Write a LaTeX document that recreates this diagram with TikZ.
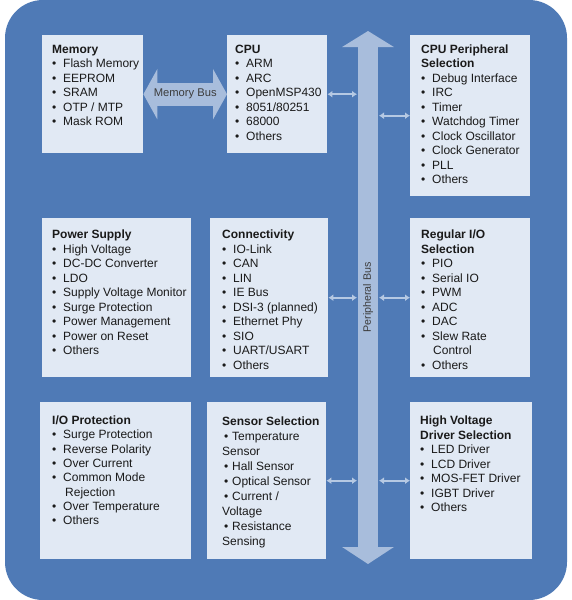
\documentclass[tikz,border=0pt]{standalone}
\usepackage{fontspec}
\setmainfont{Liberation Sans}
\usetikzlibrary{arrows.meta}
\definecolor{bgblue}{HTML}{4F7AB6}
\definecolor{boxfill}{HTML}{E1E9F4}
\definecolor{busfill}{HTML}{A8BDDC}
\definecolor{linkcol}{HTML}{B6C9E3}
\definecolor{txtcol}{HTML}{1A1A1A}
\newcommand{\itm}[1]{\makebox[11pt][l]{\textbullet}#1}
\begin{document}
\begin{tikzpicture}[x=1pt,y=-1pt,
  blk/.style={fill=boxfill, anchor=north west, inner sep=0pt},
  lst/.style={anchor=north west, inner sep=0pt, align=left, text=txtcol, font=\fontsize{12}{14.5}\selectfont},
  bus/.style={draw=busfill, line width=#1},
  link/.style={draw=linkcol, line width=1.8pt, {Latex[length=5pt,width=7pt]}-{Latex[length=5pt,width=7pt]}}]
\useasboundingbox (0,0) rectangle (572,600);
\fill[bgblue, rounded corners=38pt] (5,0) rectangle (567,600);
% blocks
\node[blk, minimum width=101pt, minimum height=118pt] (mem) at (42,35){};
\node[blk, minimum width=100pt, minimum height=118pt] (cpu) at (227,35){};
\node[blk, minimum width=120pt, minimum height=161pt] (cpuper) at (410,35){};
\node[blk, minimum width=149pt, minimum height=159pt] (pwr) at (42,218){};
\node[blk, minimum width=118pt, minimum height=159pt] (conn) at (210,218){};
\node[blk, minimum width=120pt, minimum height=159pt] (regio) at (410,218){};
\node[blk, minimum width=151pt, minimum height=157pt] (iop) at (40,402){};
\node[blk, minimum width=119pt, minimum height=157pt] (sens) at (207,402){};
\node[blk, minimum width=122pt, minimum height=157pt] (hvd) at (410,402){};
% texts
\node[lst] (mem-l) at ([xshift=10pt,yshift=-9.6pt]mem.north west){\textbf{Memory}\\
  \itm{Flash Memory}\\ \itm{EEPROM}\\ \itm{SRAM}\\ \itm{OTP / MTP}\\ \itm{Mask ROM}};
\node[lst] (cpu-l) at ([xshift=8pt,yshift=-9.6pt]cpu.north west){\textbf{CPU}\\
  \itm{ARM}\\ \itm{ARC}\\ \itm{OpenMSP430}\\ \itm{8051/80251}\\ \itm{68000}\\ \itm{Others}};
\node[lst] (cpuper-l) at ([xshift=11pt,yshift=-9.6pt]cpuper.north west){\textbf{CPU Peripheral}\\ \textbf{Selection}\\
  \itm{Debug Interface}\\ \itm{IRC}\\ \itm{Timer}\\ \itm{Watchdog Timer}\\ \itm{Clock Oscillator}\\
  \itm{Clock Generator}\\ \itm{PLL}\\ \itm{Others}};
\node[lst] (pwr-l) at ([xshift=10pt,yshift=-11.6pt]pwr.north west){\textbf{Power Supply}\\
  \itm{High Voltage}\\ \itm{DC-DC Converter}\\ \itm{LDO}\\ \itm{Supply Voltage Monitor}\\
  \itm{Surge Protection}\\ \itm{Power Management}\\ \itm{Power on Reset}\\ \itm{Others}};
\node[lst] (conn-l) at ([xshift=12pt,yshift=-11.6pt]conn.north west){\textbf{Connectivity}\\
  \itm{IO-Link}\\ \itm{CAN}\\ \itm{LIN}\\ \itm{IE Bus}\\ \itm{DSI-3 (planned)}\\
  \itm{Ethernet Phy}\\ \itm{SIO}\\ \itm{UART/USART}\\ \itm{Others}};
\node[lst] (regio-l) at ([xshift=11pt,yshift=-11.6pt]regio.north west){\textbf{Regular I/O}\\ \textbf{Selection}\\
  \itm{PIO}\\ \itm{Serial IO}\\ \itm{PWM}\\ \itm{ADC}\\ \itm{DAC}\\ \itm{Slew Rate}\\
  \hspace*{12pt}Control\\ \itm{Others}};
\node[lst, font=\fontsize{12}{14.3}\selectfont] (iop-l) at ([xshift=12pt,yshift=-13.6pt]iop.north west){\textbf{I/O Protection}\\
  \itm{Surge Protection}\\ \itm{Reverse Polarity}\\ \itm{Over Current}\\ \itm{Common Mode}\\
  \hspace*{13pt}Rejection\\ \itm{Over Temperature}\\ \itm{Others}};
\node[lst, font=\fontsize{12}{15}\selectfont] (sens-l) at ([xshift=15pt,yshift=-14.6pt]sens.north west){\textbf{Sensor Selection}\\
  \makebox[10pt][l]{\,\textbullet}Temperature\\ Sensor\\ \makebox[10pt][l]{\,\textbullet}Hall Sensor\\
  \makebox[10pt][l]{\,\textbullet}Optical Sensor\\ \makebox[10pt][l]{\,\textbullet}Current /\\ Voltage\\
  \makebox[10pt][l]{\,\textbullet}Resistance\\ Sensing};
\node[lst] (hvd-l) at ([xshift=10pt,yshift=-13.6pt]hvd.north west){\textbf{High Voltage}\\ \textbf{Driver Selection}\\
  \itm{LED Driver}\\ \itm{LCD Driver}\\ \itm{MOS-FET Driver}\\ \itm{IGBT Driver}\\ \itm{Others}};
% buses
\coordinate (pbtop) at (368,31);
\coordinate (pbbot) at (368,564);
\coordinate (pbl) at (357,0);
\coordinate (pbr) at (379,0);
\draw[bus=20pt, {Triangle[length=16pt,width=51pt]}-{Triangle[length=17pt,width=51pt]}] (pbtop) -- (pbbot)
  node[midway, rotate=90, text=txtcol!85, font=\fontsize{10.7}{12}\selectfont] (pblabel) {Peripheral Bus};
\draw[bus=23pt, {Triangle[length=14pt,width=50pt]}-{Triangle[length=14pt,width=50pt]}] (mem.east) -- (cpu.west)
  node[midway, text=txtcol!85, font=\fontsize{11.2}{13}\selectfont] (mblabel) {Memory Bus};
% links to the bus
\draw[link] (cpu.east) -- (cpu.east -| pbl);
\draw[link] (pbr |- cpuper.west) -- (cpuper.west);
\draw[link] (conn.east) -- (conn.east -| pbl);
\draw[link] (pbr |- regio.west) -- (regio.west);
\draw[link] (sens.east) -- (sens.east -| pbl);
\draw[link] (pbr |- hvd.west) -- (hvd.west);
\end{tikzpicture}
\end{document}
